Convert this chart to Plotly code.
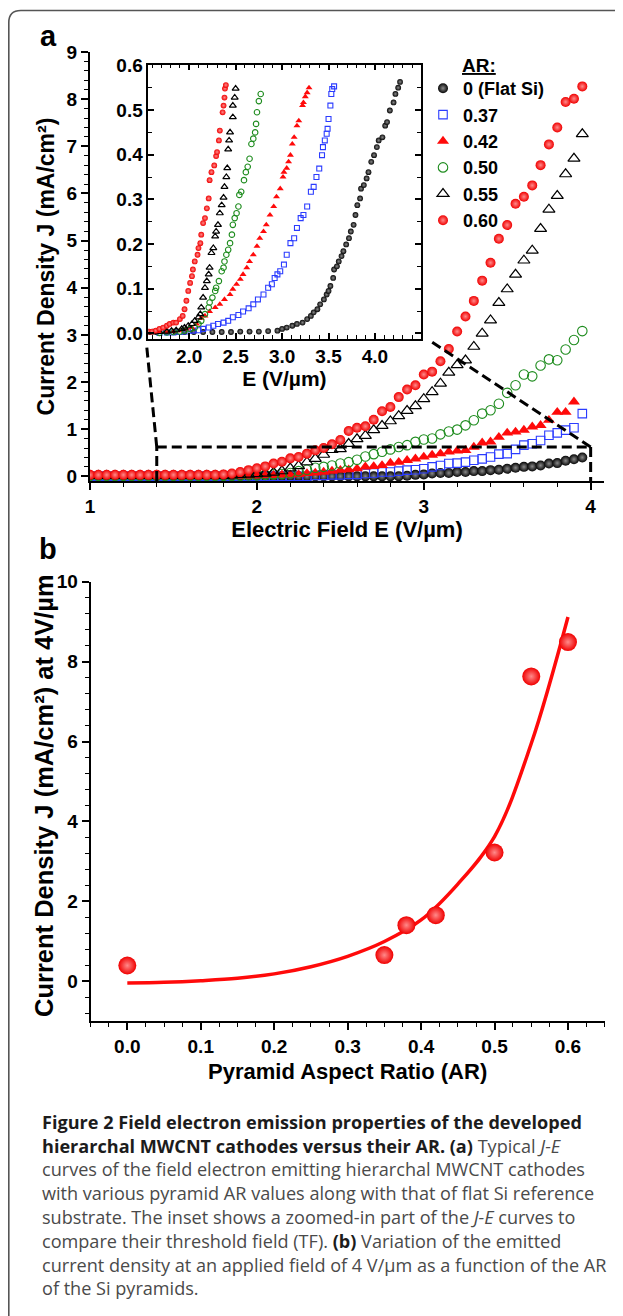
import plotly.graph_objects as go

# The page body adds an 8 px margin, so the figure is laid out 8 px smaller
# and every reference pixel position is shifted by that offset.
PAGE_W, PAGE_H, OFF = 623, 1316, 8
W, H = PAGE_W - OFF, PAGE_H - OFF


def fx(p):
    return (p - OFF) / W


def fy(p):
    return 1 - (p - OFF) / H


# ---------------- data: panel (a) main J-E curves ----------------
E_MAIN = [1.00, 1.05, 1.10, 1.15, 1.20, 1.25, 1.30, 1.35, 1.40, 1.45,
          1.50, 1.55, 1.60, 1.65, 1.70, 1.75, 1.80, 1.85, 1.90, 1.95,
          2.00, 2.05, 2.10, 2.15, 2.20, 2.25, 2.30, 2.35, 2.40, 2.45,
          2.50, 2.55, 2.60, 2.65, 2.70, 2.75, 2.80, 2.85, 2.90, 2.95,
          3.00, 3.05, 3.10, 3.15, 3.20, 3.25, 3.30, 3.35, 3.40, 3.45,
          3.50, 3.55, 3.60, 3.65, 3.70, 3.75, 3.80, 3.85, 3.90, 3.95]

J_000 = [0.00, 0.00, 0.00, 0.00, 0.00, 0.00, 0.00, 0.00, 0.00, 0.00,
         0.00, 0.00, 0.00, 0.00, 0.00, 0.00, 0.00, 0.00, 0.00, 0.00,
         0.00, 0.00, 0.00, 0.00, 0.00, 0.00, 0.00, 0.00, 0.00, 0.00,
         0.00, 0.00, 0.00, 0.00, 0.00, 0.00, 0.00, 0.00, 0.01, 0.03,
         0.04, 0.06, 0.07, 0.07, 0.09, 0.09, 0.11, 0.11, 0.13, 0.14,
         0.16, 0.18, 0.20, 0.21, 0.23, 0.27, 0.28, 0.33, 0.36, 0.40]

J_037 = [0.00, 0.00, 0.00, 0.00, 0.00, 0.00, 0.00, 0.00, 0.00, 0.00,
         0.00, 0.00, 0.00, 0.00, 0.00, 0.00, 0.00, 0.00, 0.00, 0.00,
         0.00, 0.00, 0.00, 0.00, 0.00, 0.00, 0.00, 0.02, 0.02, 0.03,
         0.03, 0.04, 0.04, 0.06, 0.07, 0.09, 0.09, 0.11, 0.13, 0.14,
         0.16, 0.20, 0.23, 0.27, 0.28, 0.30, 0.34, 0.37, 0.41, 0.47,
         0.48, 0.57, 0.66, 0.69, 0.76, 0.87, 0.92, 0.98, 1.03, 1.33]

J_042 = [0.01, 0.01, 0.01, 0.01, 0.01, 0.01, 0.01, 0.01, 0.01, 0.01,
         0.01, 0.01, 0.01, 0.01, 0.01, 0.01, 0.01, 0.01, 0.01, 0.01,
         0.01, 0.02, 0.02, 0.03, 0.03, 0.04, 0.06, 0.07, 0.09, 0.11,
         0.13, 0.14, 0.16, 0.20, 0.21, 0.23, 0.28, 0.30, 0.34, 0.37,
         0.41, 0.45, 0.48, 0.52, 0.54, 0.55, 0.62, 0.71, 0.73, 0.83,
         0.92, 0.94, 0.98, 1.05, 1.08, 1.19, 1.36, 1.36, 1.58, None]

J_050 = [0.01, 0.01, 0.01, 0.01, 0.01, 0.01, 0.01, 0.01, 0.01, 0.01,
         0.01, 0.01, 0.01, 0.01, 0.01, 0.01, 0.01, 0.01, 0.01, 0.02,
         0.02, 0.03, 0.04, 0.05, 0.07, 0.11, 0.14, 0.18, 0.20, 0.23,
         0.27, 0.30, 0.35, 0.42, 0.47, 0.52, 0.57, 0.62, 0.66, 0.73,
         0.78, 0.80, 0.89, 0.95, 0.99, 1.08, 1.19, 1.33, 1.40, 1.54,
         1.77, 1.93, 2.16, 2.12, 2.35, 2.48, 2.46, 2.69, 2.89, 3.08]

J_055 = [0.01, 0.01, 0.01, 0.01, 0.01, 0.01, 0.01, 0.01, 0.01, 0.01,
         0.01, 0.01, 0.01, 0.01, 0.01, 0.01, 0.01, 0.02, 0.03, 0.04,
         0.05, 0.06, 0.08, 0.11, 0.17, 0.22, 0.30, 0.37, 0.46, 0.56,
         0.58, 0.69, 0.79, 0.86, 0.98, 1.07, 1.17, 1.28, 1.39, 1.49,
         1.64, 1.79, 1.97, 2.20, 2.36, 2.46, 2.75, 3.03, 3.31, 3.68,
         3.97, 4.28, 4.58, 4.79, 5.25, 5.66, 5.95, 6.41, 6.74, 7.26]

J_060 = [0.03, 0.03, 0.03, 0.03, 0.03, 0.03, 0.03, 0.03, 0.03, 0.03,
         0.03, 0.03, 0.03, 0.03, 0.03, 0.03, 0.04, 0.06, 0.09, 0.13,
         0.17, 0.21, 0.27, 0.31, 0.38, 0.41, 0.48, 0.55, 0.60, 0.68,
         0.77, 0.96, 1.03, 1.06, 1.20, 1.38, 1.47, 1.68, 1.84, 1.93,
         2.16, 2.22, 2.44, 2.70, 3.07, 3.39, 3.72, 4.15, 4.53, 5.04,
         5.33, 5.78, 5.93, 6.17, 6.60, 7.04, 7.40, 7.94, 8.01, 8.27]

# ---------------- data: panel (a) inset (threshold region) ----------------
EI_000 = [1.57, 1.65, 1.75, 1.85, 1.95, 2.05, 2.15, 2.25, 2.35, 2.45,
          2.55, 2.65, 2.75, 2.85, 2.95, 3.00, 3.05, 3.11, 3.16, 3.22,
          3.27, 3.31, 3.34, 3.38, 3.41, 3.45, 3.48, 3.50, 3.52, 3.55,
          3.56, 3.59, 3.61, 3.64, 3.66, 3.69, 3.72, 3.74, 3.77, 3.79,
          3.81, 3.84, 3.85, 3.88, 3.91, 3.93, 3.96, 3.99, 4.02, 4.04,
          4.08, 4.11, 4.13, 4.16, 4.20, 4.22, 4.25, 4.27]
JI_000 = [0.003, 0.003, 0.003, 0.003, 0.003, 0.003, 0.003, 0.003, 0.003, 0.003,
          0.004, 0.004, 0.004, 0.005, 0.006, 0.010, 0.013, 0.017, 0.021, 0.024,
          0.032, 0.039, 0.047, 0.054, 0.065, 0.076, 0.087, 0.095, 0.106, 0.124,
          0.143, 0.150, 0.161, 0.173, 0.184, 0.199, 0.213, 0.228, 0.243, 0.265,
          0.287, 0.302, 0.324, 0.332, 0.347, 0.361, 0.384, 0.399, 0.417, 0.432,
          0.439, 0.465, 0.473, 0.499, 0.517, 0.536, 0.550, 0.563]

EI_037 = [1.68, 1.76, 1.83, 1.90, 1.97, 2.04, 2.10, 2.15, 2.21, 2.26,
          2.31, 2.37, 2.42, 2.47, 2.53, 2.58, 2.64, 2.69, 2.74, 2.80,
          2.85, 2.89, 2.92, 2.95, 2.98, 3.02, 3.05, 3.09, 3.13, 3.16,
          3.20, 3.23, 3.27, 3.31, 3.34, 3.37, 3.40, 3.43, 3.44, 3.46,
          3.48, 3.49, 3.50, 3.52, 3.53, 3.54, 3.56]
JI_037 = [0.001, 0.002, 0.002, 0.003, 0.004, 0.006, 0.007, 0.010, 0.013, 0.017,
          0.021, 0.024, 0.028, 0.036, 0.041, 0.049, 0.056, 0.065, 0.076, 0.087,
          0.102, 0.110, 0.124, 0.132, 0.139, 0.154, 0.176, 0.202, 0.213, 0.236,
          0.258, 0.265, 0.284, 0.317, 0.328, 0.350, 0.369, 0.399, 0.417, 0.432,
          0.447, 0.458, 0.480, 0.510, 0.536, 0.547, 0.553]

EI_042 = [1.68, 1.76, 1.83, 1.90, 1.97, 2.03, 2.08, 2.13, 2.17, 2.22,
          2.28, 2.33, 2.38, 2.44, 2.47, 2.51, 2.55, 2.58, 2.62, 2.65,
          2.69, 2.73, 2.76, 2.80, 2.83, 2.87, 2.91, 2.94, 2.98, 3.01,
          3.02, 3.05, 3.07, 3.09, 3.11, 3.13, 3.16, 3.18, 3.22, 3.23,
          3.25, 3.27, 3.29]
JI_042 = [0.002, 0.003, 0.004, 0.006, 0.010, 0.013, 0.021, 0.034, 0.039, 0.049,
          0.058, 0.065, 0.076, 0.087, 0.099, 0.110, 0.121, 0.132, 0.147, 0.161,
          0.176, 0.195, 0.213, 0.228, 0.243, 0.265, 0.284, 0.306, 0.324, 0.350,
          0.361, 0.370, 0.384, 0.399, 0.424, 0.439, 0.465, 0.476, 0.510, 0.517,
          0.530, 0.539, 0.550]

EI_050 = [1.68, 1.76, 1.83, 1.90, 1.95, 2.01, 2.06, 2.10, 2.13, 2.17,
          2.21, 2.22, 2.25, 2.28, 2.29, 2.32, 2.35, 2.37, 2.38, 2.40,
          2.42, 2.44, 2.46, 2.47, 2.49, 2.51, 2.53, 2.54, 2.56, 2.59,
          2.61, 2.63, 2.65, 2.67, 2.69, 2.71, 2.72, 2.73, 2.75, 2.77]
JI_050 = [0.001, 0.002, 0.003, 0.004, 0.006, 0.010, 0.013, 0.021, 0.028, 0.043,
          0.058, 0.069, 0.080, 0.095, 0.102, 0.117, 0.139, 0.147, 0.161, 0.176,
          0.187, 0.202, 0.221, 0.243, 0.258, 0.269, 0.284, 0.310, 0.317, 0.343,
          0.361, 0.373, 0.391, 0.424, 0.436, 0.450, 0.469, 0.495, 0.520, 0.536]

EI_055 = [1.61, 1.68, 1.76, 1.81, 1.86, 1.92, 1.95, 1.99, 2.03, 2.06,
          2.10, 2.12, 2.13, 2.15, 2.17, 2.19, 2.21, 2.22, 2.24, 2.26,
          2.28, 2.29, 2.31, 2.33, 2.35, 2.37, 2.38, 2.40, 2.41, 2.42,
          2.43, 2.44, 2.47, 2.47, 2.49, 2.50]
JI_055 = [0.002, 0.003, 0.004, 0.006, 0.007, 0.010, 0.013, 0.017, 0.021, 0.028,
          0.036, 0.043, 0.058, 0.080, 0.102, 0.117, 0.132, 0.147, 0.180, 0.191,
          0.217, 0.228, 0.243, 0.269, 0.287, 0.304, 0.328, 0.350, 0.370, 0.412,
          0.432, 0.450, 0.484, 0.510, 0.528, 0.548]

EI_060 = [1.57, 1.60, 1.64, 1.68, 1.72, 1.76, 1.79, 1.83, 1.86, 1.90,
          1.93, 1.95, 1.97, 1.99, 2.01, 2.03, 2.04, 2.06, 2.09, 2.10,
          2.12, 2.13, 2.15, 2.17, 2.19, 2.21, 2.22, 2.24, 2.27, 2.29,
          2.30, 2.32, 2.33, 2.36, 2.37, 2.38, 2.385, 2.395]
JI_060 = [0.004, 0.004, 0.006, 0.010, 0.013, 0.017, 0.021, 0.024, 0.024, 0.032,
          0.039, 0.054, 0.073, 0.095, 0.113, 0.128, 0.143, 0.161, 0.176, 0.191,
          0.202, 0.221, 0.247, 0.258, 0.280, 0.302, 0.343, 0.361, 0.376, 0.397,
          0.406, 0.432, 0.454, 0.495, 0.510, 0.528, 0.548, 0.556]

# ---------------- data: panel (b) ----------------
AR_VALUES = [0.00, 0.35, 0.38, 0.42, 0.50, 0.55, 0.60]
J_AT_4V = [0.39, 0.65, 1.40, 1.65, 3.22, 7.63, 8.49]
AR_FIT = [0.00, 0.05, 0.10, 0.15, 0.20, 0.25, 0.30, 0.35, 0.40, 0.45, 0.50, 0.55, 0.60]
J_FIT = [-0.05, -0.03, 0.01, 0.07, 0.18, 0.36, 0.62, 0.99, 1.53, 2.43, 3.62, 5.95, 9.12]

LEGEND_NAMES = ["0 (Flat Si)", "0.37", "0.42", "0.50", "0.55", "0.60"]

# zoom-box guide (main-plot data coordinates)
BOX_X0, BOX_X1, BOX_Y = 1.4, 4.0, 0.62
INSET_LL = (1.34, 2.75)
INSET_LR = (3.04, 2.87)

# ---------------- style ----------------
FONT = "Liberation Sans, Arial, sans-serif"
RED = "#ff0a0a"
BLUE = "#2b3cff"
GREEN = "#1e8c1e"
BLACK = "#000000"


def marker_style(kind, size):
    if kind == "sphere_black":
        return dict(symbol="circle", size=size, color="#050505",
                    gradient=dict(type="radial", color="#8a8a8a"), line=dict(width=0))
    if kind == "square":
        return dict(symbol="square-open", size=size * 0.85, color=BLUE, line=dict(width=1.1, color=BLUE))
    if kind == "tri_red":
        return dict(symbol="triangle-up", size=size * 1.05, color=RED, line=dict(width=0))
    if kind == "circ_green":
        return dict(symbol="circle-open", size=size * 0.95, color=GREEN, line=dict(width=1.1, color=GREEN))
    if kind == "tri_open":
        return dict(symbol="triangle-up-open", size=size * 1.05, color=BLACK, line=dict(width=1.2, color=BLACK))
    return dict(symbol="circle", size=size, color="#f00000",
                gradient=dict(type="radial", color="#ff8a8a"), line=dict(width=0))


KINDS = ["sphere_black", "square", "tri_red", "circ_green", "tri_open", "sphere_red"]
MAIN_Y = [J_000, J_037, J_042, J_050, J_055, J_060]
INSET_X = [EI_000, EI_037, EI_042, EI_050, EI_055, EI_060]
INSET_Y = [JI_000, JI_037, JI_042, JI_050, JI_055, JI_060]

fig = go.Figure()

for name, ys, kind in zip(LEGEND_NAMES, MAIN_Y, KINDS):
    fig.add_trace(go.Scatter(x=E_MAIN, y=ys, mode="markers", name=name,
                             marker=marker_style(kind, 10), xaxis="x", yaxis="y",
                             showlegend=True))

for name, xs, ys, kind in zip(LEGEND_NAMES, INSET_X, INSET_Y, KINDS):
    fig.add_trace(go.Scatter(x=xs, y=ys, mode="markers", name=name,
                             marker=marker_style(kind, 5.8), xaxis="x2", yaxis="y2",
                             showlegend=False))

fig.add_trace(go.Scatter(x=AR_FIT, y=J_FIT, mode="lines", line=dict(color=RED, width=3.5, shape="spline"),
                         xaxis="x3", yaxis="y3", showlegend=False, name="fit"))
fig.add_trace(go.Scatter(x=AR_VALUES, y=J_AT_4V, mode="markers", xaxis="x3", yaxis="y3",
                         marker=marker_style("sphere_red", 18), showlegend=False, name="J at 4 V/µm"))

TICKFONT = dict(family=FONT, size=19, color="black", weight="bold")


def base_axis(**kw):
    d = dict(showgrid=False, zeroline=False, showline=True, linecolor="black", linewidth=2,
             tickcolor="black", tickwidth=1.5, automargin=False, tickfont=TICKFONT)
    d.update(kw)
    return d


# panel a main
XA_DOM = [fx(90), fx(604)]
YA_DOM = [fy(481), fy(52)]
XA_RANGE = [1.0, 4.08]
YA_RANGE = [-0.1, 9.0]
# inset
XI_DOM = [fx(148.3), fx(420.5)]
YI_DOM = [fy(338.7), fy(64.5)]
# panel b
XB_DOM = [fx(90.6), fx(604.7)]
YB_DOM = [fy(1021), fy(581.8)]
XB_RANGE = [-0.05, 0.65]
YB_RANGE = [-1.0, 10.0]

TITLEFONT = dict(family=FONT, size=22, color="black", weight="bold")
MINOR_OUT = dict(ticklen=4, ticks="outside", tickcolor="black", tickwidth=1.3)
MINOR_IN = dict(ticklen=4, ticks="inside", tickcolor="black", tickwidth=1.3)

fig.update_layout(
    xaxis=base_axis(domain=XA_DOM, range=XA_RANGE, anchor="y", dtick=1, tick0=0, ticks="outside", ticklen=7,
                    minor=dict(MINOR_OUT, dtick=0.2),
                    title=dict(text="Electric Field E (V/µm)", font=TITLEFONT, standoff=6)),
    yaxis=base_axis(domain=YA_DOM, range=YA_RANGE, anchor="x", dtick=1, tick0=0, ticks="outside", ticklen=7,
                    minor=dict(MINOR_OUT, dtick=0.2),
                    title=dict(text="Current Density J (mA/cm²)", font=dict(TITLEFONT, size=23), standoff=6)),
    xaxis4=base_axis(domain=XA_DOM, range=XA_RANGE, anchor="y", overlaying="x", side="bottom", dtick=1, tick0=0,
                     ticks="inside", ticklen=7, mirror="ticks", showticklabels=False,
                     minor=dict(MINOR_IN, dtick=0.2)),
    yaxis4=base_axis(domain=YA_DOM, range=YA_RANGE, anchor="x", overlaying="y", side="left", dtick=1, tick0=0,
                     ticks="inside", ticklen=7, mirror="ticks", showticklabels=False,
                     minor=dict(MINOR_IN, dtick=0.2)),
    xaxis2=base_axis(domain=XI_DOM, range=[1.56, 4.49], anchor="y2", dtick=0.5, tick0=0, tickformat=".1f",
                     ticks="inside", ticklen=6, mirror="ticks", linewidth=1.5,
                     minor=dict(dtick=0.1, ticklen=3.5, ticks="inside", tickcolor="black", tickwidth=1.2),
                     tickfont=dict(TICKFONT, size=19),
                     title=dict(text="E (V/µm)", font=dict(TITLEFONT, size=21), standoff=4)),
    yaxis2=base_axis(domain=YI_DOM, range=[-0.012, 0.602], anchor="x2", dtick=0.1, tick0=0, tickformat=".1f",
                     ticks="inside", ticklen=6, mirror="ticks", linewidth=1.5,
                     minor=dict(dtick=0.05, ticklen=3.5, ticks="inside", tickcolor="black", tickwidth=1.2),
                     tickfont=dict(TICKFONT, size=19)),
    xaxis3=base_axis(domain=XB_DOM, range=XB_RANGE, anchor="y3", dtick=0.1, tick0=0, tickformat=".1f",
                     ticks="outside", ticklen=7, minor=dict(MINOR_OUT, dtick=0.025),
                     tickfont=dict(TICKFONT, size=19),
                     title=dict(text="Pyramid Aspect Ratio (AR)", font=TITLEFONT, standoff=8)),
    yaxis3=base_axis(domain=YB_DOM, range=YB_RANGE, anchor="x3", dtick=2, tick0=0,
                     ticks="outside", ticklen=7, minor=dict(MINOR_OUT, dtick=0.4),
                     tickfont=dict(TICKFONT, size=19)),
    xaxis5=base_axis(domain=XB_DOM, range=XB_RANGE, anchor="y3", overlaying="x3", side="bottom", dtick=0.1,
                     tick0=0, ticks="inside", ticklen=7, mirror="ticks", showticklabels=False,
                     minor=dict(MINOR_IN, dtick=0.025)),
    yaxis5=base_axis(domain=YB_DOM, range=YB_RANGE, anchor="x3", overlaying="y3", side="left", dtick=2,
                     tick0=0, ticks="inside", ticklen=7, mirror="ticks", showticklabels=False,
                     minor=dict(MINOR_IN, dtick=0.4)),
)

fig.update_layout(
    width=W, height=H, template="none",
    margin=dict(l=0, r=0, t=0, b=0),
    paper_bgcolor="white", plot_bgcolor="white",
    font=dict(family=FONT, color="black"),
    showlegend=True,
    legend=dict(x=fx(423), y=fy(70), xanchor="left", yanchor="top",
                font=dict(family=FONT, size=18, color="black", weight="bold"),
                bgcolor="rgba(0,0,0,0)", borderwidth=0, tracegroupgap=0, itemsizing="trace"),
)

# zoom-box dashed guides
DASH = dict(color="black", width=3, dash="10px,5px")
guides = [
    (BOX_X0, YA_RANGE[0], BOX_X0, BOX_Y),
    (BOX_X0, BOX_Y, BOX_X1, BOX_Y),
    (BOX_X1, BOX_Y, BOX_X1, YA_RANGE[0]),
    (BOX_X0, BOX_Y, INSET_LL[0], INSET_LL[1]),
    (BOX_X1, BOX_Y, INSET_LR[0], INSET_LR[1]),
]
for x0, y0, x1, y1 in guides:
    fig.add_shape(type="line", xref="x", yref="y", x0=x0, y0=y0, x1=x1, y1=y1, line=DASH, layer="above")

# rounded outer frame of the figure
r = 12
LX, TY = 8.8, 10.5
frame_path = (f"M {fx(LX)} {fy(1340)} L {fx(LX)} {fy(TY + r)} "
              f"Q {fx(LX)} {fy(TY)} {fx(LX + r)} {fy(TY)} L {fx(650)} {fy(TY)}")
fig.add_shape(type="path", xref="paper", yref="paper", path=frame_path,
              line=dict(color="#555555", width=1.6))

# panel letters, panel-b y title and legend title
fig.add_annotation(x=fx(48), y=fy(36), xref="paper", yref="paper", text="<b>a</b>", showarrow=False,
                   xanchor="center", yanchor="middle", font=dict(family=FONT, size=29, color="black"))
fig.add_annotation(x=fx(48), y=fy(549), xref="paper", yref="paper", text="<b>b</b>", showarrow=False,
                   xanchor="center", yanchor="middle", font=dict(family=FONT, size=29, color="black"))
fig.add_annotation(x=fx(44), y=fy(796), xref="paper", yref="paper",
                   text="<b>Current Density J (mA/cm²) at 4V/µm</b>", textangle=-90,
                   showarrow=False, xanchor="center", yanchor="middle",
                   font=dict(family=FONT, size=25.5, color="black"))
fig.add_annotation(x=fx(460), y=fy(65), xref="paper", yref="paper", text="<b><u>AR:</u></b>",
                   showarrow=False, xanchor="left", yanchor="middle",
                   font=dict(family=FONT, size=19, color="black"))

# caption
BK = "<b><span style='color:#1c1c1c'>{}</span></b>"
CAPTION = [
    BK.format("Figure 2 Field electron emission properties of the developed"),
    BK.format("hierarchal MWCNT cathodes versus their AR. (a)") + " Typical <i>J-E</i>",
    "curves of the field electron emitting hierarchal MWCNT cathodes",
    "with various pyramid AR values along with that of flat Si reference",
    "substrate. The inset shows a zoomed-in part of the <i>J-E</i> curves to",
    "compare their threshold field (TF). " + BK.format("(b)") + " Variation of the emitted",
    "current density at an applied field of 4 V/µm as a function of the AR",
    "of the Si pyramids.",
]
for i, line in enumerate(CAPTION):
    fig.add_annotation(x=fx(39.5), y=fy(1121.7 + 23.8 * i), xref="paper", yref="paper", text=line,
                       showarrow=False, xanchor="left", yanchor="middle", align="left",
                       font=dict(family="Open Sans, sans-serif", size=18.1, color="#4a4a4a"))

fig.write_html("out.html")
